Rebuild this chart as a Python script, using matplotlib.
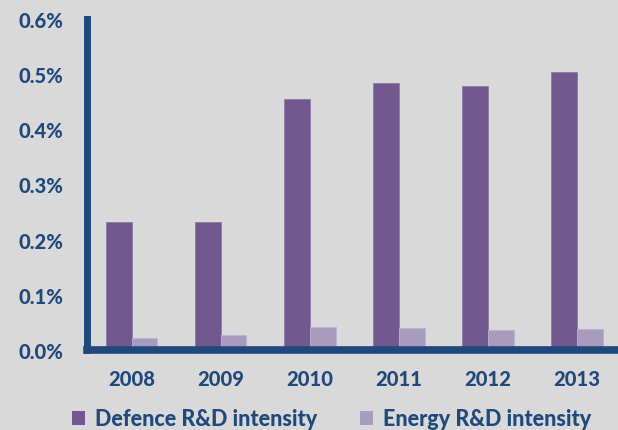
import matplotlib
matplotlib.use("Agg")
import matplotlib.pyplot as plt
import numpy as np
from matplotlib.patches import Patch
from matplotlib.ticker import FuncFormatter

years = ["2008", "2009", "2010", "2011", "2012", "2013"]
defence = [0.232, 0.232, 0.455, 0.484, 0.478, 0.504]
energy = [0.021, 0.028, 0.041, 0.039, 0.036, 0.038]
series_names = ["Defence R&D intensity", "Energy R&D intensity"]
yticks = [0.0, 0.1, 0.2, 0.3, 0.4, 0.5, 0.6]

BG = "#D9D9D9"
C_DEF = "#71588F"
C_EN = "#A99BBD"
NAVY = "#1F497D"
WEIGHT = 900

plt.rcParams["font.family"] = ["Lato", "DejaVu Sans"]
plt.rcParams["font.weight"] = WEIGHT

fig = plt.figure(figsize=(6.18, 4.31), dpi=100, facecolor=BG)
ax = fig.add_axes([87 / 618, (431 - 351) / 431, 1 - 87 / 618, (351 - 19.9) / 431])
ax.set_facecolor(BG)

x = np.arange(len(years))
w = 0.29
ax.bar(x - w / 2, defence, w, color=C_DEF, edgecolor="#8E7AA8", linewidth=0.6, zorder=2)
ax.bar(x + w / 2, energy, w, color=C_EN, edgecolor="#BDB2CC", linewidth=0.6, zorder=2)

ax.set_xlim(-0.5, 5.46)
ax.set_ylim(0, 0.6)
ax.set_yticks(yticks)
ax.yaxis.set_major_formatter(FuncFormatter(lambda v, p: f"{v:.1f}%"))
ax.set_xticks(x)
ax.set_xticklabels(years)

for s in ["top", "right"]:
    ax.spines[s].set_visible(False)
ax.spines["left"].set_color(NAVY)
ax.spines["left"].set_linewidth(5)
ax.spines["bottom"].set_color(NAVY)
ax.spines["bottom"].set_linewidth(5.5)
ax.spines["bottom"].set_zorder(3)

ax.tick_params(axis="both", length=0, labelsize=14.5, labelcolor=NAVY)
ax.tick_params(axis="y", pad=17)
ax.tick_params(axis="x", pad=14)
for lab in ax.get_xticklabels() + ax.get_yticklabels():
    lab.set_fontweight(WEIGHT)

handles = [Patch(facecolor=C_DEF, edgecolor="none"), Patch(facecolor=C_EN, edgecolor="none")]
fig.legend(handles, series_names, loc="center", bbox_to_anchor=(0.537, (431 - 420) / 431),
           ncol=2, frameon=False, handlelength=0.6, handleheight=0.6, handletextpad=0.45,
           columnspacing=2.0, prop={"size": 15.5, "weight": WEIGHT}, labelcolor=NAVY)

fig.savefig("out.png", dpi=100, facecolor=BG)
